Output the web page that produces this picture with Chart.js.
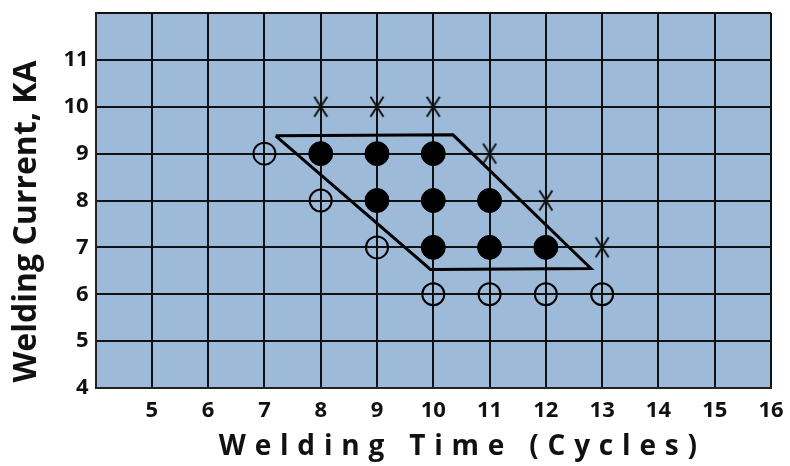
<!DOCTYPE html>
<html>
<head>
<meta charset="utf-8">
<script src="https://cdn.jsdelivr.net/npm/chart.js@4.4.1/dist/chart.umd.min.js"></script>
<style>
  html, body { margin: 0; padding: 0; background: #fff; }
  #wrap { width: 790px; height: 466px; }
</style>
</head>
<body>
<div id="wrap"><canvas id="myChart"></canvas></div>
<script>
// good welds (filled circles)
const goodTime    = [8, 9, 10, 9, 10, 11, 10, 11, 12];
const goodCurrent = [9, 9, 9, 8, 8, 8, 7, 7, 7];
// cold welds (open circles)
const coldTime    = [7, 8, 9, 10, 11, 12, 13];
const coldCurrent = [9, 8, 7, 6, 6, 6, 6];
// expulsion (x marks)
const expelTime    = [8, 9, 10, 11, 12, 13];
const expelCurrent = [10, 10, 10, 9, 8, 7];
// weld lobe outline
const lobeTime    = [7.2, 10.35, 12.8, 9.95, 7.2];
const lobeCurrent = [9.38, 9.4, 6.55, 6.53, 9.38];

const xMin = 4, xMax = 16;
const yMin = 4, yMax = 12;

const toPoints = (xs, ys) => xs.map((x, i) => ({ x: x, y: ys[i] }));

// narrow "X" marker
const xMark = document.createElement('canvas');
xMark.width = 18;
xMark.height = 24;
(function () {
    const c = xMark.getContext('2d');
    c.strokeStyle = '#111';
    c.lineWidth = 2;
    c.beginPath();
    c.moveTo(2.5, 2); c.lineTo(15.5, 22);
    c.moveTo(15.5, 2); c.lineTo(2.5, 22);
    c.stroke();
})();

const plotBackground = {
    id: 'plotBackground',
    beforeDraw(chart) {
        const a = chart.chartArea;
        const ctx = chart.ctx;
        ctx.save();
        ctx.fillStyle = '#9dbad8';
        ctx.fillRect(a.left, a.top, a.right - a.left, a.bottom - a.top);
        ctx.restore();
    }
};

// spaced out x title, both titles nudged a bit like the original
const titleTweak = {
    id: 'titleTweak',
    beforeDraw(chart) {
        Object.values(chart.scales).forEach(function (s) {
            if (s._patched) return;
            const orig = s.drawTitle.bind(s);
            s.drawTitle = function () {
                const ctx = this.ctx;
                ctx.save();
                if (this.id === 'x') {
                    ctx.letterSpacing = '8.8px';
                    ctx.translate(29, 0);
                } else {
                    ctx.translate(0, 21);
                }
                orig();
                ctx.restore();
            };
            s._patched = true;
        });
    }
};

const font = '"Open Sans", sans-serif';

const config = {
    type: 'scatter',
    data: {
        datasets: [{
            label: 'Lobe',
            data: toPoints(lobeTime, lobeCurrent),
            showLine: true,
            borderColor: '#000',
            borderWidth: 3,
            pointRadius: 0,
            fill: false,
            tension: 0
        }, {
            label: 'Good',
            data: toPoints(goodTime, goodCurrent),
            pointStyle: 'circle',
            pointRadius: 12,
            backgroundColor: '#000',
            borderColor: '#000',
            borderWidth: 1
        }, {
            label: 'Cold',
            data: toPoints(coldTime, coldCurrent),
            pointStyle: 'circle',
            pointRadius: 11,
            backgroundColor: 'rgba(0,0,0,0)',
            borderColor: '#000',
            borderWidth: 2
        }, {
            label: 'Expulsion',
            data: toPoints(expelTime, expelCurrent),
            pointStyle: xMark,
            pointRadius: 10
        }]
    },
    options: {
        responsive: true,
        maintainAspectRatio: false,
        animation: false,
        layout: {
            padding: { top: 12, right: 19, left: 8, bottom: 2 }
        },
        plugins: {
            legend: { display: false },
            tooltip: { enabled: false }
        },
        scales: {
            x: {
                type: 'linear',
                min: xMin,
                max: xMax,
                afterFit: function (scale) {
                    scale.paddingRight = 12;
                },
                ticks: {
                    stepSize: 1,
                    color: '#111',
                    padding: 10,
                    font: { family: font, size: 22, weight: 'bold' },
                    callback: function (value) {
                        return value === xMin ? '' : value;
                    }
                },
                grid: {
                    color: '#111',
                    lineWidth: 2,
                    drawTicks: false
                },
                border: { color: '#222', width: 2 },
                title: {
                    display: true,
                    text: 'Welding Time (Cycles)',
                    color: '#111',
                    padding: { top: -4, bottom: 0 },
                    font: { family: font, size: 28, weight: 'bold' }
                }
            },
            y: {
                type: 'linear',
                min: yMin,
                max: yMax,
                afterFit: function (scale) {
                    scale.paddingTop = 0;
                },
                ticks: {
                    stepSize: 1,
                    color: '#111',
                    padding: 7,
                    font: { family: font, size: 22, weight: 'bold' },
                    callback: function (value) {
                        return value === yMax ? '' : value;
                    }
                },
                grid: {
                    color: '#111',
                    lineWidth: 2,
                    drawTicks: false
                },
                border: { color: '#222', width: 2 },
                title: {
                    display: true,
                    text: 'Welding Current, KA',
                    color: '#111',
                    padding: { top: 0, bottom: 10 },
                    font: { family: font, size: 32, weight: 'bold' }
                }
            }
        }
    },
    plugins: [plotBackground, titleTweak]
};

let myChart = new Chart(document.getElementById('myChart'), config);
</script>
</body>
</html>
